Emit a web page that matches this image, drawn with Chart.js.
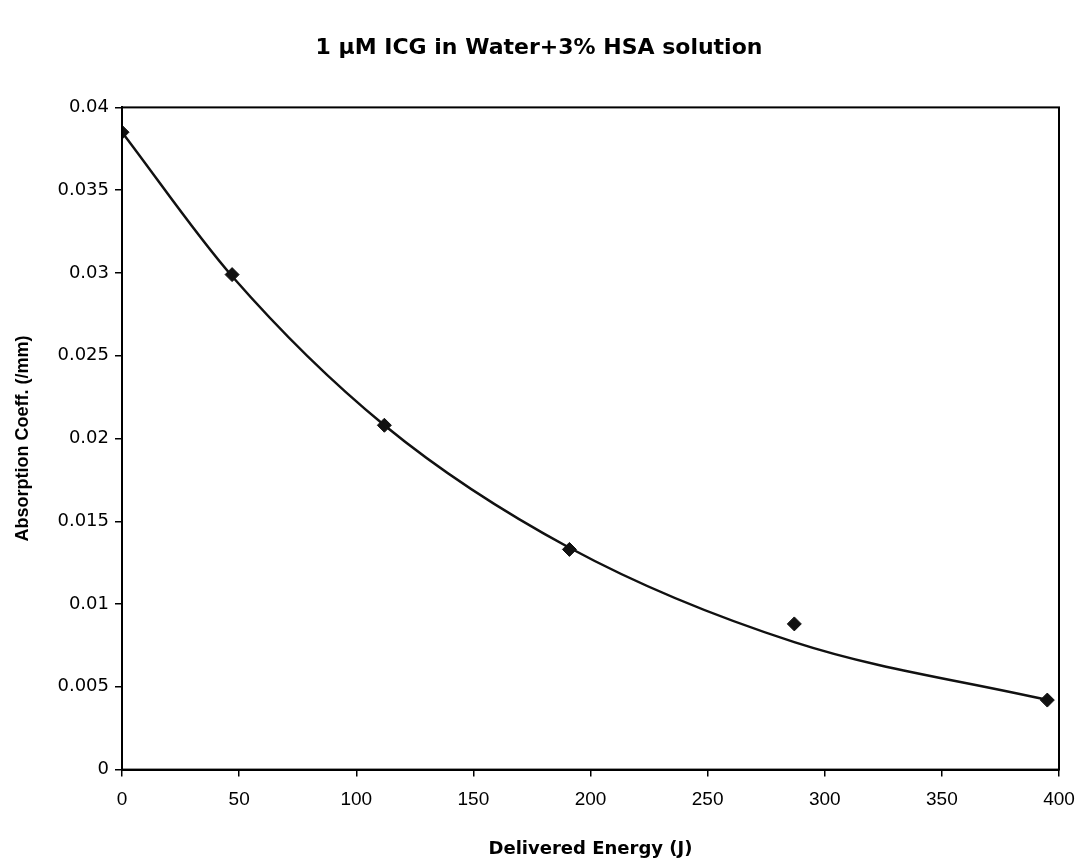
<!DOCTYPE html>
<html>
<head>
<meta charset="utf-8">
<script src="https://cdn.jsdelivr.net/npm/chart.js@4/dist/chart.umd.min.js"></script>
<style>
  html, body { margin: 0; padding: 0; background: #fff; }
  #wrap { width: 1078px; height: 860px; }
</style>
</head>
<body>
<div id="wrap"><canvas id="chart"></canvas></div>
<script>
// measured points
const energy = [0, 47, 112, 191, 287, 395];
const absorption = [0.0385, 0.0299, 0.0208, 0.0133, 0.0088, 0.0042];
// fitted trend curve, read at the same energies
const trend = [0.0385, 0.0298, 0.0208, 0.0134, 0.0077, 0.0042];
const xTicks = [0, 50, 100, 150, 200, 250, 300, 350, 400];
const yTicks = [0, 0.005, 0.01, 0.015, 0.02, 0.025, 0.03, 0.035, 0.04];

const SANS = '"Liberation Sans", Arial, sans-serif';
const WIDE = '"DejaVu Sans", Verdana, sans-serif';

// black frame round the plot area
const frame = {
  id: 'frame',
  afterDraw(chart) {
    const { ctx, chartArea: a } = chart;
    ctx.save();
    ctx.strokeStyle = '#000';
    ctx.lineWidth = 2;
    ctx.strokeRect(a.left, a.top, a.right - a.left, a.bottom - a.top);
    ctx.restore();
  }
};

new Chart(document.getElementById('chart'), {
  type: 'scatter',
  data: {
    datasets: [
      {
        label: 'trend',
        data: energy.map((x, i) => ({ x, y: trend[i] })),
        showLine: true,
        borderColor: '#111',
        borderWidth: 2.5,
        pointRadius: 0,
        cubicInterpolationMode: 'monotone'
      },
      {
        label: 'measured',
        data: energy.map((x, i) => ({ x, y: absorption[i] })),
        pointStyle: 'rectRot',
        pointRadius: 7,
        backgroundColor: '#111',
        borderColor: '#111',
        borderWidth: 1
      }
    ]
  },
  options: {
    responsive: true,
    maintainAspectRatio: false,
    animation: false,
    layout: { padding: { left: 0, right: 0, top: 0, bottom: 0 } },
    plugins: {
      legend: { display: false },
      tooltip: { enabled: false },
      title: {
        display: true,
        text: '1 \u00b5M ICG in Water+3% HSA solution',
        color: '#000',
        font: { family: WIDE, size: 22, weight: 'bold' },
        padding: { top: 35, bottom: 46 }
      }
    },
    scales: {
      x: {
        type: 'linear',
        min: 0, max: 400,
        afterBuildTicks: s => { s.ticks = xTicks.map(v => ({ value: v })); },
        afterFit: s => { s.paddingRight = 19; },
        grid: { drawOnChartArea: false, color: '#000', tickLength: 7, lineWidth: 1.5 },
        border: { color: '#000', width: 2 },
        ticks: { color: '#000', font: { family: SANS, size: 19 }, padding: 12 },
        title: {
          display: true,
          text: 'Delivered Energy (J)',
          color: '#000',
          font: { family: WIDE, size: 18, weight: 'bold' },
          padding: { top: 15, bottom: 0 }
        }
      },
      y: {
        min: 0, max: 0.04,
        afterBuildTicks: s => { s.ticks = yTicks.map(v => ({ value: v })); },
        afterFit: s => { s.width = 122; },
        grid: { drawOnChartArea: false, color: '#000', tickLength: 7, lineWidth: 1.5 },
        border: { color: '#000', width: 2 },
        ticks: {
          color: '#000',
          font: { family: WIDE, size: 18 },
          padding: 6,
          callback: v => String(v)
        },
        title: {
          display: true,
          text: 'Absorption Coeff. (/mm)',
          color: '#000',
          font: { family: SANS, size: 18, weight: 'bold' },
          padding: { top: 12, bottom: 0 }
        }
      }
    }
  },
  plugins: [frame]
});
</script>
</body>
</html>
